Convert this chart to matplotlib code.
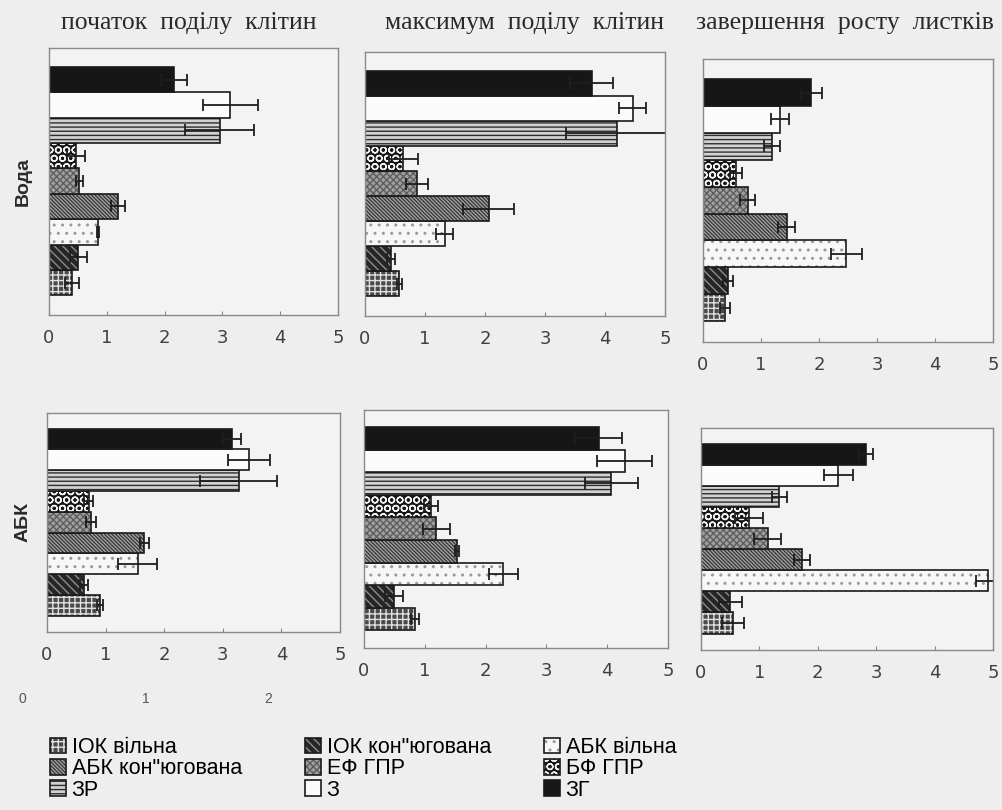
import matplotlib
matplotlib.use("Agg")
import matplotlib.pyplot as plt

# ---------------- data ----------------
categories = ['ІОК вільна', 'ІОК кон"югована', 'АБК вільна', 'АБК кон"югована',
              'ЕФ ГПР', 'БФ ГПР', 'ЗР', 'З', 'ЗГ']
col_titles = ['початок  поділу  клітин', 'максимум  поділу  клітин',
              'завершення  росту  листків']
row_titles = ['Вода', 'АБК']
x_ticks = [0, 1, 2, 3, 4, 5]

water_start = [0.40, 0.51, 0.85, 1.20, 0.52, 0.47, 2.95, 3.14, 2.16]
water_start_err = [0.12, 0.15, 0.02, 0.12, 0.06, 0.16, 0.60, 0.48, 0.23]
water_max = [0.57, 0.43, 1.33, 2.06, 0.87, 0.64, 4.20, 4.46, 3.78]
water_max_err = [0.04, 0.07, 0.14, 0.42, 0.18, 0.24, 0.85, 0.23, 0.36]
water_end = [0.38, 0.43, 2.47, 1.44, 0.77, 0.57, 1.19, 1.33, 1.87]
water_end_err = [0.09, 0.09, 0.27, 0.14, 0.13, 0.11, 0.13, 0.15, 0.18]
aba_start = [0.91, 0.63, 1.55, 1.66, 0.75, 0.71, 3.27, 3.45, 3.16]
aba_start_err = [0.05, 0.07, 0.33, 0.08, 0.09, 0.08, 0.66, 0.36, 0.15]
aba_max = [0.84, 0.49, 2.29, 1.53, 1.19, 1.10, 4.07, 4.29, 3.86]
aba_max_err = [0.07, 0.15, 0.24, 0.03, 0.22, 0.11, 0.43, 0.45, 0.39]
aba_end = [0.55, 0.50, 4.91, 1.73, 1.14, 0.83, 1.34, 2.35, 2.82]
aba_end_err = [0.19, 0.20, 0.20, 0.13, 0.23, 0.24, 0.13, 0.25, 0.12]

stray_ticks = ['0', '1', '2']

# ---------------- styles ----------------
# (facecolor, hatch, hatch colour)
styles = [
    ('#4a4a4a', '+++', '#e0e0e0'),        # ІОК вільна
    ('#262626', '\\\\\\\\', '#8c8c8c'),   # ІОК кон"югована
    ('#f7f7f7', '..', '#9a9a9a'),         # АБК вільна
    ('#a8a8a8', '\\' * 9, '#3a3a3a'),     # АБК кон"югована
    ('#a0a0a0', 'xxxxx', '#5e5e5e'),      # ЕФ ГПР
    ('#151515', 'OO', '#f2f2f2'),         # БФ ГПР
    ('#d2d2d2', '----', '#2e2e2e'),       # ЗР
    ('#fbfbfb', '', '#fbfbfb'),           # З
    ('#161616', '', '#161616'),           # ЗГ
]

bg = '#eeeeee'
plt.rcParams['hatch.linewidth'] = 1.0

W, H = 1003, 810
fig = plt.figure(figsize=(W / 100, H / 100), dpi=100, facecolor=bg)

# axes boxes in pixels: left, top, right, bottom
boxes = [
    [(49, 48, 338, 315), (365, 52, 665, 316), (703, 59, 993, 342)],
    [(47, 413, 340, 632), (364, 410, 668, 648), (701, 428, 993, 650)],
]
vals = [[water_start, water_max, water_end], [aba_start, aba_max, aba_end]]
errs = [[water_start_err, water_max_err, water_end_err],
        [aba_start_err, aba_max_err, aba_end_err]]

ypos = list(range(len(categories)))
handles = None
for r in range(2):
    for c in range(3):
        l, t, rr, b = boxes[r][c]
        ax = fig.add_axes([l / W, 1 - b / H, (rr - l) / W, (b - t) / H])
        ax.set_facecolor('#f3f3f3')
        hs = []
        for i, cat in enumerate(categories):
            fc, hatch, hc = styles[i]
            p1 = ax.barh(ypos[i], vals[r][c][i], height=1.0, color=fc,
                         edgecolor=hc, hatch=hatch, linewidth=0)
            p2 = ax.barh(ypos[i], vals[r][c][i], height=1.0, fill=False,
                         edgecolor='#1a1a1a', linewidth=1.2)
            hs.append((p1[0], p2[0]))
        ax.errorbar(vals[r][c], ypos, xerr=errs[r][c], fmt='none',
                    ecolor='#1e1e1e', elinewidth=1.3, capsize=4, capthick=1.3)
        ax.set_xlim(0, 5)
        ax.set_ylim(-1.28, 9.25)
        ax.set_xticks(x_ticks)
        ax.set_xticklabels([str(v) for v in x_ticks])
        ax.set_yticks([])
        ax.tick_params(axis='x', direction='in', length=3, color='#888888',
                       labelsize=13, labelcolor='#404040', pad=10)
        for s in ax.spines.values():
            s.set_color('#8a8a8a')
            s.set_linewidth(1.0)
        if handles is None:
            handles = hs

# column titles
for txt, xc in zip(col_titles, [189, 525, 845]):
    fig.text(xc / W, 1 - 23 / H, txt, ha='center', va='center',
             family='Liberation Serif', fontsize=18.5, color='#2a2a2a')

# row titles
for txt, yc in zip(row_titles, [182, 522]):
    fig.text(23 / W, 1 - yc / H, txt, ha='center', va='center', rotation=90,
             family='Liberation Sans', fontweight='bold', fontsize=14,
             color='#2a2a2a')

# stray tick labels below the bottom-left panel
for txt, xp in zip(stray_ticks, [22, 146, 268]):
    fig.text(xp / W, 1 - 699 / H, txt, ha='center', va='center',
             family='Liberation Sans', fontsize=10, color='#555555')

# legend: three columns, row-wise order
col_x = [50, 305, 544]
for k in range(3):
    idx = [k, k + 3, k + 6]
    fig.legend([handles[i] for i in idx], [categories[i] for i in idx],
               loc='upper left', bbox_to_anchor=(col_x[k] / W, 1 - 737 / H),
               frameon=False, ncol=1, handlelength=0.75, handleheight=0.75,
               handletextpad=0.25, labelspacing=0.02, borderpad=0,
               borderaxespad=0,
               prop={'family': 'Liberation Sans', 'size': 15.5})

fig.savefig('out.png', dpi=100, facecolor=bg)
